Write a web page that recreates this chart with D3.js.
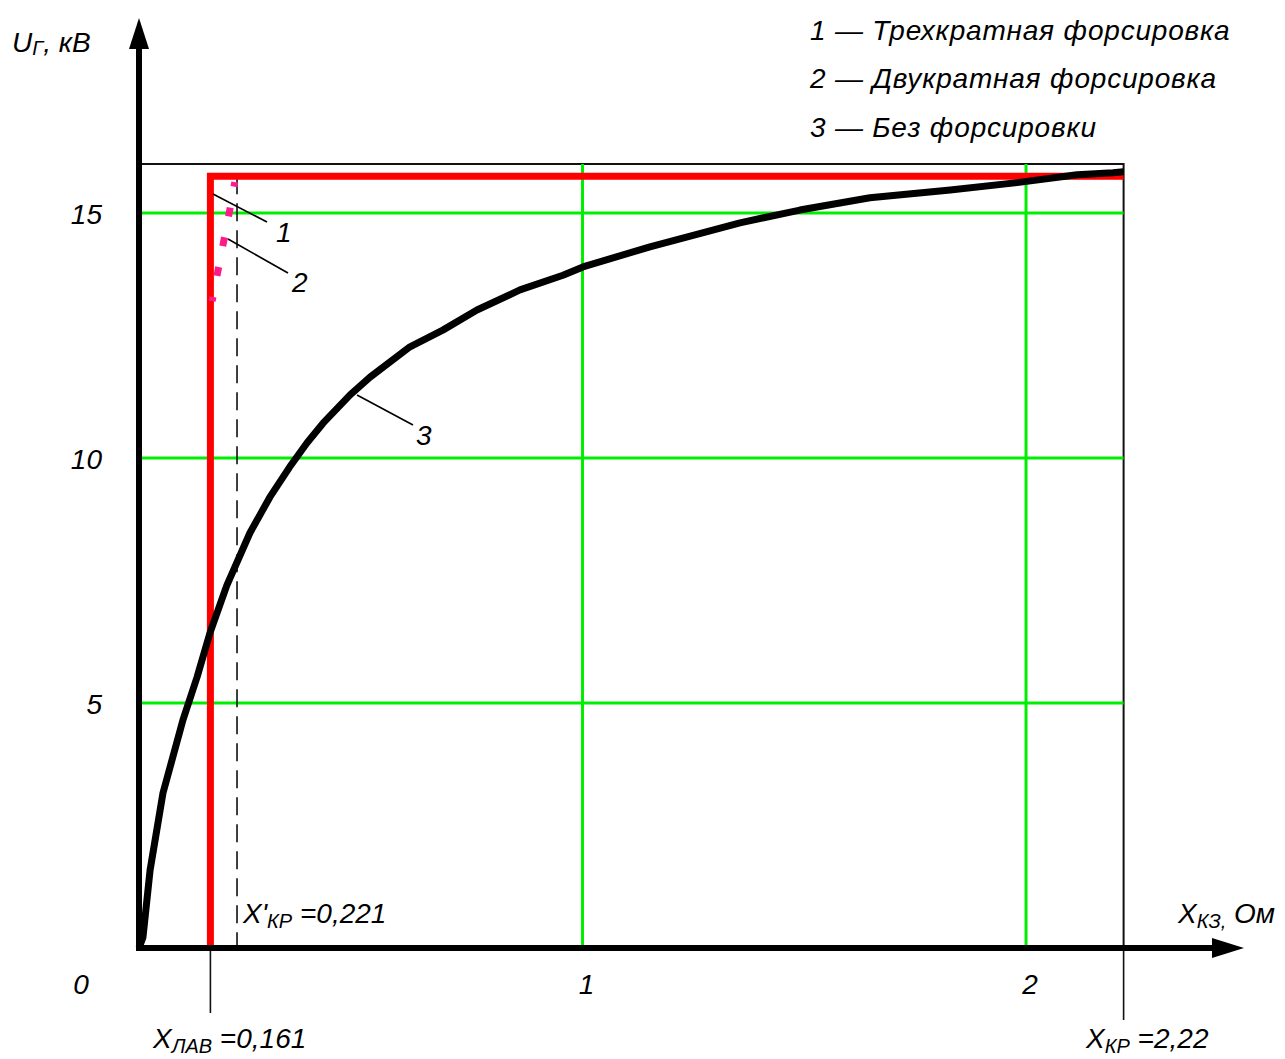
<!DOCTYPE html>
<html>
<head>
<meta charset="utf-8">
<script src="https://cdn.jsdelivr.net/npm/d3@7"></script>
<style>
  html, body { margin: 0; padding: 0; background: #fff; }
  svg text { font-family: "Liberation Sans", Arial, sans-serif; font-style: italic; fill: #000; }
</style>
</head>
<body>
<svg id="chart" width="1285" height="1059"></svg>
<script>
// Generator voltage vs short-circuit reactance
const xTicks = [1, 2];
const xTickLabels = ["1", "2"];
const yTicks = [5, 10, 15];
const yTickLabels = ["5", "10", "15"];

// Curve 3 – without field forcing
const curve3X = [0, 0.009, 0.025, 0.054, 0.099, 0.131, 0.160, 0.198, 0.250, 0.295, 0.340, 0.379, 0.415, 0.476, 0.521, 0.611, 0.685, 0.762, 0.859, 0.956, 1.001, 1.152, 1.355, 1.490, 1.648, 1.829, 1.980, 2.115, 2.196, 2.22];
const curve3U = [0, 0.22, 1.59, 3.16, 4.65, 5.53, 6.43, 7.40, 8.47, 9.20, 9.82, 10.31, 10.71, 11.29, 11.65, 12.27, 12.61, 13.02, 13.43, 13.73, 13.90, 14.31, 14.80, 15.06, 15.31, 15.47, 15.62, 15.78, 15.82, 15.84];

// Curve 2 – twofold forcing (short dashed arc near the corner)
const curve2X = [0.165, 0.178, 0.192, 0.205, 0.216];
const curve2U = [13.2, 13.82, 14.47, 15.08, 15.63];

// Curve 1 – threefold forcing (rectangular characteristic)
const xLAB = 0.161;
const xKP1 = 0.221;
const xKP = 2.22;
const uForced = 15.75;
const curve1X = [xLAB, xLAB, xKP];
const curve1U = [0, uForced, uForced];

const legendItems = ["1 — Трехкратная форсировка", "2 — Двукратная форсировка", "3 — Без форсировки"];

const svg = d3.select("#chart");
const x = d3.scaleLinear().domain([0, xKP]).range([139, 1123.6]);
const y = d3.scaleLinear().domain([0, 16]).range([948, 164]);

const FS = 28;
const SUB = 20;

// frame (top and right)
svg.append("path")
  .attr("d", `M${x(0)},${y(16)} H${x(xKP)} V${y(0)}`)
  .attr("fill", "none").attr("stroke", "#111").attr("stroke-width", 2);

// green grid
svg.append("g").selectAll("line").data(yTicks).join("line")
  .attr("x1", x(0)).attr("x2", x(xKP))
  .attr("y1", d => y(d)).attr("y2", d => y(d))
  .attr("stroke", "#00ee00").attr("stroke-width", 3);
svg.append("g").selectAll("line").data(xTicks).join("line")
  .attr("x1", d => x(d)).attr("x2", d => x(d))
  .attr("y1", y(0)).attr("y2", y(16))
  .attr("stroke", "#00ee00").attr("stroke-width", 3);

// extension lines below the axis
svg.append("line").attr("x1", x(xLAB)).attr("x2", x(xLAB)).attr("y1", y(0)).attr("y2", 1013)
  .attr("stroke", "#111").attr("stroke-width", 1.6);
svg.append("line").attr("x1", x(xKP)).attr("x2", x(xKP)).attr("y1", y(0)).attr("y2", 1020)
  .attr("stroke", "#111").attr("stroke-width", 1.6);

// dashed line at X'кр
svg.append("line").attr("x1", x(xKP1)).attr("x2", x(xKP1)).attr("y1", y(uForced)).attr("y2", y(0))
  .attr("stroke", "#111").attr("stroke-width", 1.6).attr("stroke-dasharray", "18 9");

const line = d3.line().x(d => x(d[0])).y(d => y(d[1]));

// curve 1 (red)
svg.append("path").datum(d3.zip(curve1X, curve1U))
  .attr("d", line).attr("fill", "none").attr("stroke", "#ff0000")
  .attr("stroke-width", 7).attr("stroke-linejoin", "miter");

// curve 3 (black)
svg.append("path").datum(d3.zip(curve3X, curve3U))
  .attr("d", line)
  .attr("fill", "none").attr("stroke", "#000")
  .attr("stroke-width", 7).attr("stroke-linejoin", "round");

// curve 2 (pink dashes)
const c2 = svg.append("path").datum(d3.zip(curve2X, curve2U))
  .attr("d", line).attr("fill", "none").attr("stroke", "#ff1a8c")
  .attr("stroke-width", 7);
const len = c2.node().getTotalLength();
const step = len / (curve2X.length - 1);
c2.attr("stroke-dasharray", `9 ${step - 9}`).attr("stroke-dashoffset", 4.5)
  .attr("stroke-linecap", "butt");

// axes with arrows
svg.append("line").attr("x1", x(0)).attr("x2", x(0)).attr("y1", y(0) + 3).attr("y2", 45)
  .attr("stroke", "#000").attr("stroke-width", 6);
svg.append("path").attr("d", `M${x(0)},18 L${x(0) - 10},49 L${x(0) + 10},49 Z`).attr("fill", "#000");
svg.append("line").attr("x1", x(0) - 3).attr("x2", 1215).attr("y1", y(0)).attr("y2", y(0))
  .attr("stroke", "#000").attr("stroke-width", 6);
svg.append("path").attr("d", `M1244,${y(0)} L1212,${y(0) - 10} L1212,${y(0) + 10} Z`).attr("fill", "#000");

// tick labels
svg.append("g").selectAll("text").data(yTicks).join("text")
  .attr("x", 102).attr("y", d => y(d) + 11).attr("text-anchor", "end")
  .attr("font-size", FS).text((d, i) => yTickLabels[i]);
svg.append("g").selectAll("text").data(xTicks).join("text")
  .attr("x", d => x(d) + 4).attr("y", 994).attr("text-anchor", "middle")
  .attr("font-size", FS).text((d, i) => xTickLabels[i]);
svg.append("text").attr("x", 81).attr("y", 994).attr("text-anchor", "middle")
  .attr("font-size", FS).text("0");

// axis titles
const ty = svg.append("text").attr("x", 12).attr("y", 52).attr("font-size", FS);
ty.append("tspan").text("U");
ty.append("tspan").attr("font-size", SUB).attr("dy", 3).text("Г");
ty.append("tspan").attr("dy", -3).text(",  кВ");
const tx = svg.append("text").attr("x", 1178).attr("y", 923).attr("font-size", FS);
tx.append("tspan").text("X");
tx.append("tspan").attr("font-size", SUB).attr("dy", 5).text("КЗ,");
tx.append("tspan").attr("dy", -5).text(" Ом");

// marked reactances
function subLabel(px, py, main, sub, rest) {
  const t = svg.append("text").attr("x", px).attr("y", py).attr("font-size", FS);
  t.append("tspan").text(main);
  t.append("tspan").attr("font-size", SUB).attr("dy", 5).text(sub);
  t.append("tspan").attr("dy", -5).text(rest);
}
subLabel(243, 923, "X'", "КР", " =0,221");
subLabel(153, 1048, "X", "ЛАВ", " =0,161");
subLabel(1086, 1048, "X", "КР", " =2,22");

// curve leaders and numbers
const leaders = [
  { x1: 213, y1: 194, x2: 267, y2: 222, lx: 276, ly: 242, t: "1" },
  { x1: 228, y1: 239, x2: 288, y2: 273, lx: 292, ly: 292, t: "2" },
  { x1: 357, y1: 395, x2: 413, y2: 425, lx: 416, ly: 445, t: "3" }
];
svg.append("g").selectAll("line").data(leaders).join("line")
  .attr("x1", d => d.x1).attr("y1", d => d.y1).attr("x2", d => d.x2).attr("y2", d => d.y2)
  .attr("stroke", "#000").attr("stroke-width", 1.6);
svg.append("g").selectAll("text").data(leaders).join("text")
  .attr("x", d => d.lx).attr("y", d => d.ly).attr("font-size", FS).text(d => d.t);

// legend
svg.append("g").selectAll("text").data(legendItems).join("text")
  .attr("x", 810).attr("y", (d, i) => [40, 88, 137][i])
  .attr("font-size", FS).attr("letter-spacing", 0.8).text(d => d);
</script>
</body>
</html>
